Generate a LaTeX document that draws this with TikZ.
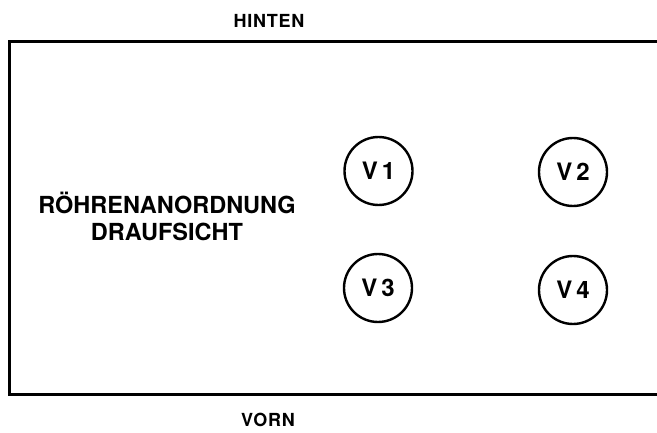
\documentclass[tikz,border=0pt]{standalone}
\usepackage{fontspec}
\setmainfont{TeX Gyre Heros}
\usetikzlibrary{positioning}

\begin{document}
\begin{tikzpicture}
                      [x=1pt, y=1pt, text centered,
                       tube/.style={draw, circle, line width=2.4pt, minimum size=68pt, inner sep=0pt,
                                    font=\fontsize{24}{24}\selectfont\bfseries},
                       side/.style={font=\fontsize{18}{18}\selectfont\bfseries\addfontfeature{LetterSpace=4}},
                       title/.style={align=center, font=\fontsize{23.5}{27}\selectfont\bfseries}]
                      \useasboundingbox (0,0) rectangle (657,432);
                      \clip (0,0) rectangle (657,432);

                      % chassis %
                      \draw[line width=3pt] (690,390) -- (9,390) -- (9,37.5) -- (690,37.5);
                      \node[side] (hinten) at (269,411) {HINTEN};
                      \node[side] (vorn) at (268,12) {VORN};

                      % tubes %
                      \node[tube] (v1) at (378.5,261) {V\,1};
                      \node[tube] (v2) at (573,260) {V\,2};
                      \node[tube] (v3) at (378,144) {V\,3};
                      \node[tube] (v4) at (573,142) {V\,4};

                      % label %
                      \node[title] (lbl) at (167,216) {RÖHRENANORDNUNG\\DRAUFSICHT};
                    \end{tikzpicture}
\end{document}
